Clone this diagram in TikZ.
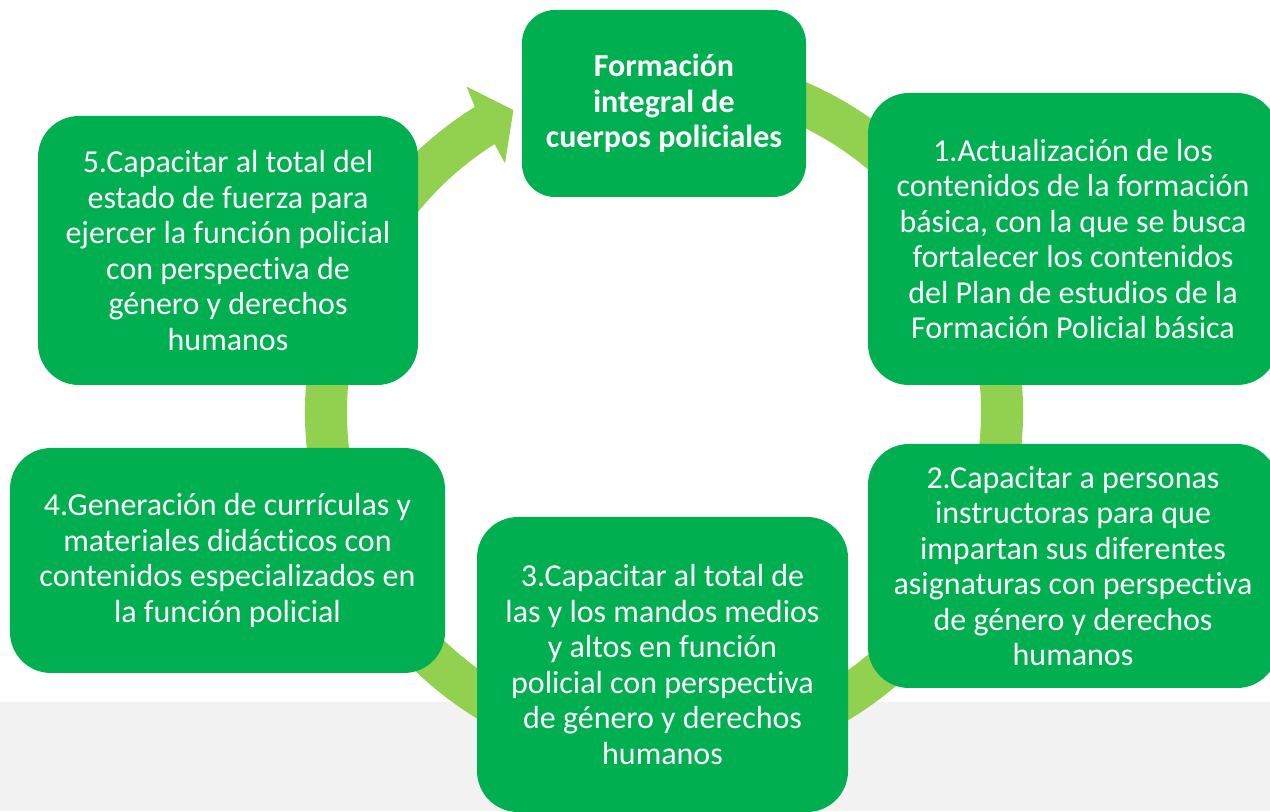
\documentclass[tikz,border=0pt]{standalone}
\usepackage{fontspec}
\setmainfont{Carlito}[Ligatures=NoCommon]
\definecolor{boxgreen}{HTML}{00B050}
\definecolor{ringgreen}{HTML}{92D050}
\definecolor{bandgray}{HTML}{F2F2F2}
\begin{document}
\begin{tikzpicture}[
    stage/.style={fill=boxgreen, rounded corners=0.41cm, text=white, align=center,
      inner sep=0pt, font=\fontsize{9.1}{10.1}\selectfont}
  ]
  \useasboundingbox (0,0) rectangle (12.7,8.11);
  \fill[bandgray] (0,0) rectangle (12.7,1.09);

  \coordinate (ctr) at (6.64,3.99);
  \fill[ringgreen] ([shift={(80:3.59)}]ctr) arc[start angle=80, end angle=-238.2, radius=3.59]
    -- ([shift={(121.24:3.805)}]ctr) -- ([shift={(116.5:3.375)}]ctr)
    -- ([shift={(122.6:2.952)}]ctr) -- ([shift={(-237.7:3.17)}]ctr)
    arc[start angle=-237.7, end angle=80, radius=3.17] -- cycle;

  \node[stage, rounded corners=0.33cm, minimum width=2.84cm, minimum height=1.87cm,
    font=\fontsize{9.1}{10.1}\selectfont\bfseries] (core) at (6.64,7.075)
    {Formación\\integral de\\cuerpos policiales};
  \node[stage, minimum width=4.10cm, minimum height=2.92cm] (s1) at (10.73,5.72)
    {1.Actualización de los\\contenidos de la formación\\básica, con la que se busca\\fortalecer los contenidos\\del Plan de estudios de la\\Formación Policial básica};
  \node[stage, minimum width=4.10cm, minimum height=2.44cm] (s2) at (10.73,2.45)
    {2.Capacitar a personas\\instructoras para que\\impartan sus diferentes\\asignaturas con perspectiva\\de género y derechos\\humanos};
  \node[stage, minimum width=3.71cm, minimum height=2.95cm] (s3) at (6.625,1.465)
    {3.Capacitar al total de\\las y los mandos medios\\y altos en función\\policial con perspectiva\\de género y derechos\\humanos};
  \node[stage, minimum width=4.35cm, minimum height=2.25cm] (s4) at (2.275,2.505)
    {4.Generación de currículas y\\materiales didácticos con\\contenidos especializados en\\la función policial};
  \node[stage, minimum width=3.80cm, minimum height=2.69cm] (s5) at (2.28,5.605)
    {5.Capacitar al total del\\estado de fuerza para\\ejercer la función policial\\con perspectiva de\\género y derechos\\humanos};
\end{tikzpicture}
\end{document}
